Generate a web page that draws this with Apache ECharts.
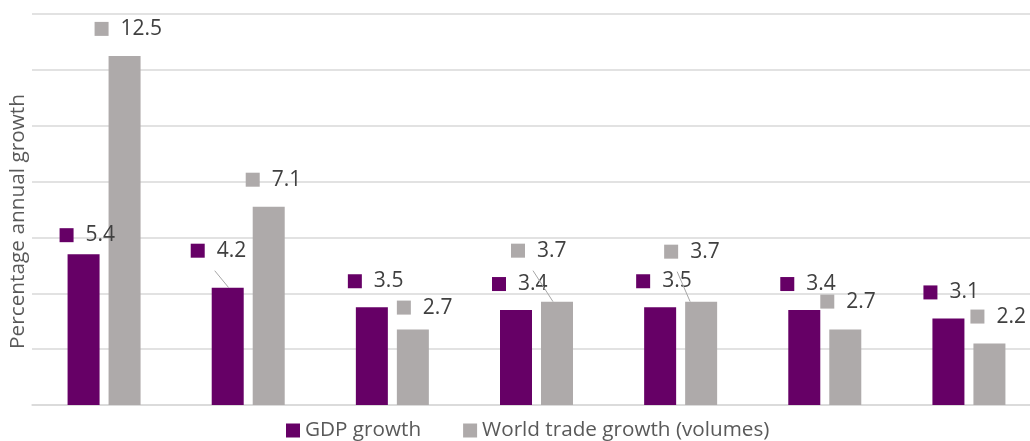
<!DOCTYPE html>
<html>
<head>
<meta charset="utf-8">
<script src="https://cdn.jsdelivr.net/npm/echarts@6/dist/echarts.min.js"></script>
<style>
html,body{margin:0;padding:0;background:#fff;}
#chart{width:1030px;height:441px;}
</style>
</head>
<body>
<div id="chart"></div>
<script>
const categories = ['1', '2', '3', '4', '5', '6', '7'];
const gdpGrowth = [5.4, 4.2, 3.5, 3.4, 3.5, 3.4, 3.1];
const tradeGrowth = [12.5, 7.1, 2.7, 3.7, 3.7, 2.7, 2.2];
const seriesNames = ['GDP growth', 'World trade growth (volumes)'];
const axisName = 'Percentage annual growth';

// label placement (offset from bar-top centre), like the hand-placed labels in the original
const gdpLabelShift = [[-24,-19],[-37,-37],[-24,-26],[-24,-26],[-24,-26],[-24,-26],[-25,-26]];
const tradeLabelShift = [[-30,-27],[-23,-27],[-16,-22],[-46,-51],[-37,-50],[-25,-28],[-19,-27]];
// leader lines: [start offset from label left, end offset from bar left] or null
const gdpLeader = [null,[24,17],null,null,null,null,null];
const tradeLeader = [null,null,null,[22,12],[13,5],null,null];

const PURPLE = '#660066';
const GREY = '#AEAAAA';
const FONT = 'Open Sans';
const BAR_W = 32;
const BAR_GAP = 9;

function labelCfg(color) {
  return {
    show: true,
    position: 'top',
    distance: 0,
    align: 'left',
    verticalAlign: 'middle',
    formatter: p => '{sq|}{v|' + p.value + '}',
    rich: {
      sq: {width: 14, height: 14, backgroundColor: color, verticalAlign: 'middle'},
      v: {fontFamily: FONT, fontSize: 21, color: '#404040', padding: [0,0,0,12], verticalAlign: 'middle', lineHeight: 24}
    }
  };
}

function layoutFor(shift) {
  return p => ({dx: shift[p.dataIndex][0], dy: shift[p.dataIndex][1]});
}

// leader-line items: [categoryIndex, value, side(-1 gdp / +1 trade), seriesIdx]
const leaderItems = [];
gdpGrowth.forEach((v, i) => { if (gdpLeader[i]) leaderItems.push([i, v, -1, 0]); });
tradeGrowth.forEach((v, i) => { if (tradeLeader[i]) leaderItems.push([i, v, 1, 1]); });

function renderLeader(params, api) {
  const i = api.value(0), v = api.value(1), side = api.value(2), s = api.value(3);
  const top = api.coord([i, v]);
  const barCx = top[0] + side * (BAR_W + BAR_GAP) / 2;
  const barLeft = barCx - BAR_W / 2;
  const shift = s === 0 ? gdpLabelShift[i] : tradeLabelShift[i];
  const ld = s === 0 ? gdpLeader[i] : tradeLeader[i];
  const lx = barCx + shift[0];
  const cy = top[1] + shift[1];
  return {
    type: 'line',
    shape: {x1: lx + ld[0], y1: cy + 20, x2: barLeft + ld[1], y2: top[1]},
    style: {stroke: '#A6A6A6', lineWidth: 1}
  };
}

const chart = echarts.init(document.getElementById('chart'), null, {renderer: 'canvas'});
chart.setOption({
  animation: false,
  textStyle: {fontFamily: FONT},
  grid: {left: 32, width: 1009, top: 14, bottom: 36, containLabel: false, outerBoundsMode: 'none'},
  legend: {
    data: seriesNames,
    left: 281,
    top: 415,
    icon: 'rect',
    itemWidth: 14,
    itemHeight: 14,
    itemGap: 42,
    textStyle: {fontFamily: FONT, fontSize: 20.7, color: '#595959'}
  },
  xAxis: {
    type: 'category',
    data: categories,
    axisLabel: {show: false},
    axisTick: {show: false},
    axisLine: {lineStyle: {color: '#D9D9D9', width: 1.5}}
  },
  yAxis: {
    type: 'value',
    min: 0,
    max: 14,
    interval: 2,
    name: axisName,
    nameLocation: 'middle',
    nameRotate: 90,
    nameGap: 3,
    nameTextStyle: {fontFamily: FONT, fontSize: 20.8, color: '#595959', padding: [0, 24, 0, 0]},
    axisLabel: {show: false},
    axisTick: {show: false},
    axisLine: {show: false},
    splitLine: {lineStyle: {color: '#D9D9D9', width: 1.5}}
  },
  series: [
    {
      name: seriesNames[0],
      type: 'bar',
      barWidth: BAR_W,
      barGap: (BAR_GAP / BAR_W * 100) + '%',
      itemStyle: {color: PURPLE},
      data: gdpGrowth,
      label: labelCfg(PURPLE),
      labelLayout: layoutFor(gdpLabelShift)
    },
    {
      name: seriesNames[1],
      type: 'bar',
      barWidth: BAR_W,
      itemStyle: {color: GREY},
      data: tradeGrowth,
      label: labelCfg(GREY),
      labelLayout: layoutFor(tradeLabelShift)
    },
    {
      type: 'custom',
      silent: true,
      z: 5,
      renderItem: renderLeader,
      data: leaderItems,
      encode: {x: 0, y: 1}
    }
  ]
});
</script>
</body>
</html>
